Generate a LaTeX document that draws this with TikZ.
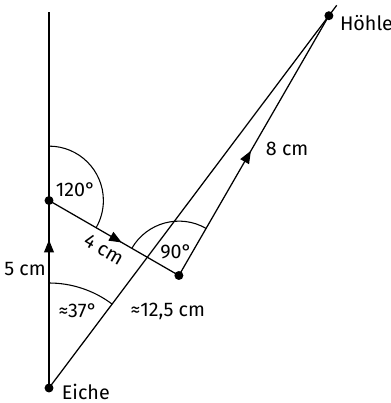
\documentclass[tikz,border=0pt]{standalone}
\usepackage{fontspec}
\setmainfont{Fira Sans}
\usetikzlibrary{ positioning, arrows.meta, calc, decorations.markings }

\begin{document}
\begin{tikzpicture}[
  x=0.735cm, y=0.735cm,
  line width=0.7pt,
  every node/.style={font=\fontsize{11}{13}\selectfont, inner sep=1pt},
  pt/.style={circle, fill=black, inner sep=0pt, minimum size=5pt},
  leg/.style={postaction={decorate}, decoration={markings,
      mark=at position #1 with {\arrow{Triangle[length=7pt, width=5.5pt]}}}},
  angarc/.style={line width=0.6pt},
]
  \useasboundingbox (-1.307,-0.4) rectangle (9.12,10.347);
  % points of the path
  \node[pt, label={[label distance=3pt, yshift=-2pt]right:Eiche}] (E) at (0,0) {};
  \node[pt] (A) at (0,5) {};
  \node[pt] (B) at (3.464,3) {};
  \node[pt, label={[label distance=2pt, yshift=-4pt]right:Höhle}] (H) at (7.464,9.928) {};
  \coordinate (top) at (0,10.03);
  \coordinate (Hx) at ($(E.center)!1.028!(H.center)$);
  % vertical line and direct line
  \draw (A.center) -- (top);
  \draw (E.center) -- (Hx);
  % walked legs
  \draw[leg=0.79] (E.center) -- (A.center);
  \draw[leg=0.56] (A.center) -- (B.center);
  \draw[leg=0.48] (B.center) -- (H.center);
  % angle arcs
  \draw[angarc] ([shift={(90:1.45)}]A.center) arc[start angle=90, end angle=-30, radius=1.45];
  \draw[angarc] ([shift={(150:1.45)}]B.center) arc[start angle=150, end angle=60, radius=1.45];
  \draw[angarc] ([shift={(90:2.8)}]E.center) arc[start angle=90, end angle=53.1, radius=2.8];
  % labels
  \node (a120) at (0.71,5.28) {120°};
  \node[rotate=-30, inner sep=0pt] (l4) at (1.46,3.7) {4 cm};
  \node (a90) at (3.39,3.63) {90°};
  \node (l5) at (-0.64,3.17) {5 cm};
  \node (a37) at (0.77,2.05) {≈37°};
  \node (l12) at (3.17,2.05) {≈12,5 cm};
  \node (l8) at (6.35,6.37) {8 cm};
\end{tikzpicture}
\end{document}
